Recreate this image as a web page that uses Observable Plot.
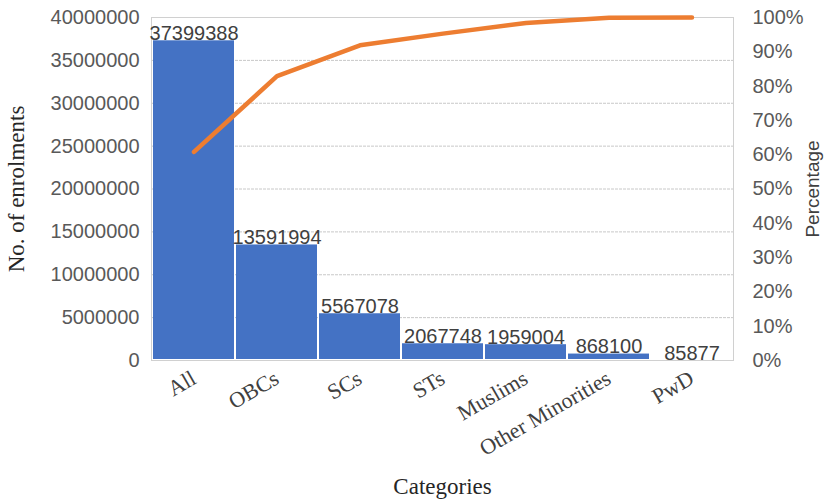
<!DOCTYPE html>
<html>
<head>
<meta charset="utf-8">
<script src="https://cdn.jsdelivr.net/npm/d3@7"></script>
<script src="https://cdn.jsdelivr.net/npm/@observablehq/plot@0.6"></script>
<style>
  html, body { margin: 0; padding: 0; background: #fff; }
</style>
</head>
<body>
<div id="chart"></div>
<script>
const categories = ["All", "OBCs", "SCs", "STs", "Muslims", "Other Minorities", "PwD"];
const enrolments = [37399388, 13591994, 5567078, 2067748, 1959004, 868100, 85877];
const cumulativePct = [60.8, 82.9, 91.9, 95.3, 98.4, 99.9, 100];
const leftTicks = [0, 5000000, 10000000, 15000000, 20000000, 25000000, 30000000, 35000000, 40000000];
const rightTicksPct = [0, 10, 20, 30, 40, 50, 60, 70, 80, 90, 100];
const yMax = 40000000;

const data = categories.map((c, i) => ({category: c, value: enrolments[i], pct: cumulativePct[i]}));

const sans = "'Liberation Sans', Arial, sans-serif";
const serif = "'Liberation Serif', 'Times New Roman', serif";

const chart = Plot.plot({
  width: 824,
  height: 499,
  marginLeft: 151,
  marginRight: 91,
  marginTop: 17,
  marginBottom: 139,
  style: {background: "#fff", overflow: "visible"},
  x: {domain: categories, padding: 0, label: null},
  y: {domain: [0, yMax], label: null},
  marks: [
    Plot.gridY(leftTicks, {stroke: "#c8c8c8", strokeOpacity: 1, strokeDasharray: "3,1"}),
    Plot.frame({stroke: "#d0d0d0"}),
    Plot.barY(data, {x: "category", y: "value", fill: "#4472c4", inset: 1}),
    Plot.line(data, {x: "category", y: d => d.pct / 100 * yMax, stroke: "#ed7d31", strokeWidth: 4.5, strokeLinejoin: "round"}),
    Plot.text(data, {x: "category", y: "value", text: d => String(d.value), lineAnchor: "bottom", dy: 0, fontSize: 20, fontFamily: sans, fill: "#404040"}),
    Plot.axisY(leftTicks, {anchor: "left", tickSize: 0, tickPadding: 12, tickFormat: d => String(d), fontSize: 20, fontFamily: sans, color: "#595959", label: null}),
    Plot.axisY(rightTicksPct.map(p => p / 100 * yMax), {anchor: "right", tickSize: 0, tickPadding: 19, textAnchor: "start", tickFormat: d => Math.round(d / yMax * 100) + "%", fontSize: 20, fontFamily: sans, color: "#595959", label: null}),
    Plot.axisX({tickSize: 0, tickPadding: 16, tickRotate: -30, fontSize: 22, fontFamily: serif, color: "#404040", label: null}),
    Plot.text(["No. of enrolments"], {frameAnchor: "left", dx: -135, rotate: -90, textAnchor: "middle", lineAnchor: "middle", fontSize: 23, fontFamily: serif, fill: "#262626"}),
    Plot.text(["Percentage"], {frameAnchor: "right", dx: 79, rotate: -90, textAnchor: "middle", lineAnchor: "middle", fontSize: 19, fontFamily: sans, fill: "#404040"}),
    Plot.text(["Categories"], {frameAnchor: "bottom", dy: 126, textAnchor: "middle", lineAnchor: "middle", fontSize: 23, fontFamily: serif, fill: "#262626"})
  ]
});
document.getElementById("chart").appendChild(chart);
</script>
</body>
</html>
